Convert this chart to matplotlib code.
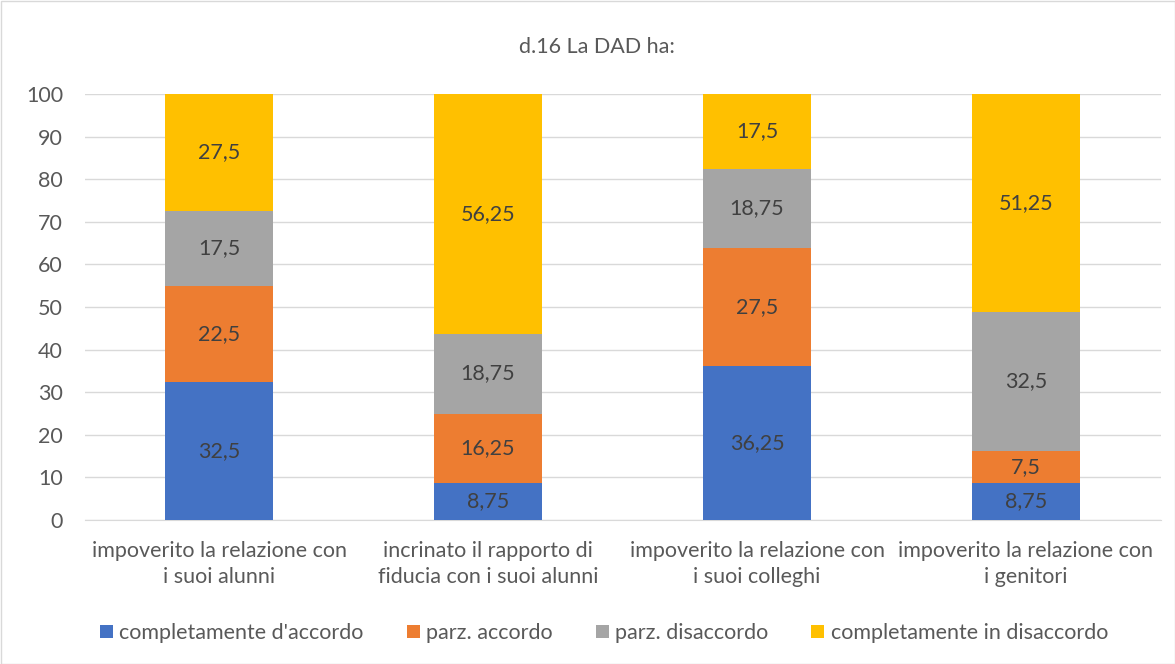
import matplotlib
matplotlib.use("Agg")
import matplotlib.pyplot as plt
from matplotlib.patches import Rectangle
import numpy as np

plt.rcParams["font.family"] = ["Lato", "DejaVu Sans"]

categories = [
    "impoverito la relazione con\ni suoi alunni",
    "incrinato il rapporto di\nfiducia con i suoi alunni",
    "impoverito la relazione con\ni suoi colleghi",
    "impoverito la relazione con\ni genitori",
]
series_names = ["completamente d'accordo", "parz. accordo",
                "parz. disaccordo", "completamente in disaccordo"]
accordo = [32.5, 8.75, 36.25, 8.75]
parz_accordo = [22.5, 16.25, 27.5, 7.5]
parz_disaccordo = [17.5, 18.75, 18.75, 32.5]
disaccordo = [27.5, 56.25, 17.5, 51.25]
yticks = list(range(0, 101, 10))

colors = ["#4472C4", "#ED7D31", "#A5A5A5", "#FFC000"]
text_col = "#595959"
fs = 15.5

fig = plt.figure(figsize=(11.75, 6.64), dpi=100)
ax = fig.add_axes([84.5 / 1175, 1 - 520 / 664, 1076 / 1175, 426 / 664])

x = np.arange(len(categories))
bottom = np.zeros(len(categories))
for name, vals, c in zip(series_names,
                         [accordo, parz_accordo, parz_disaccordo, disaccordo], colors):
    bars = ax.bar(x, vals, 0.4, bottom=bottom, color=c, label=name, zorder=3)
    for b, v, y0 in zip(bars, vals, bottom):
        ax.text(b.get_x() + b.get_width() / 2, y0 + v / 2,
                f"{v:g}".replace(".", ","), ha="center", va="center",
                fontsize=fs, color="#404040", zorder=4)
    bottom += np.array(vals)

ax.set_xlim(-0.5, 3.5)
ax.set_ylim(0, 100)
ax.set_yticks(yticks)
ax.set_yticklabels([str(t) for t in yticks], fontsize=fs, color=text_col)
ax.set_xticks(x)
ax.set_xticklabels(categories, fontsize=fs, color=text_col, linespacing=1.4)
ax.tick_params(axis="both", length=0)
ax.tick_params(axis="y", pad=15.5)
ax.tick_params(axis="x", pad=15)
ax.grid(axis="y", color="#D9D9D9", linewidth=1, zorder=0)
for s in ["top", "right", "left"]:
    ax.spines[s].set_visible(False)
ax.spines["bottom"].set_color("#D9D9D9")

fig.text(597 / 1175, 1 - 47 / 664, "d.16 La DAD ha:", ha="center", va="center",
         fontsize=fs, color=text_col)

ax.legend(loc="center", bbox_to_anchor=(604 / 1175, 1 - 633 / 664),
          bbox_transform=fig.transFigure, ncol=4, frameon=False,
          fontsize=fs, labelcolor=text_col, handlelength=0.6, handleheight=0.6,
          handletextpad=0.3, columnspacing=2.0)

fig.patches.append(Rectangle((0.5 / 1175, 0.5 / 664), 1 - 1 / 1175, 1 - 1 / 664,
                             transform=fig.transFigure, fill=False,
                             edgecolor="#D9D9D9", linewidth=1))

fig.savefig("out.png", dpi=100)
